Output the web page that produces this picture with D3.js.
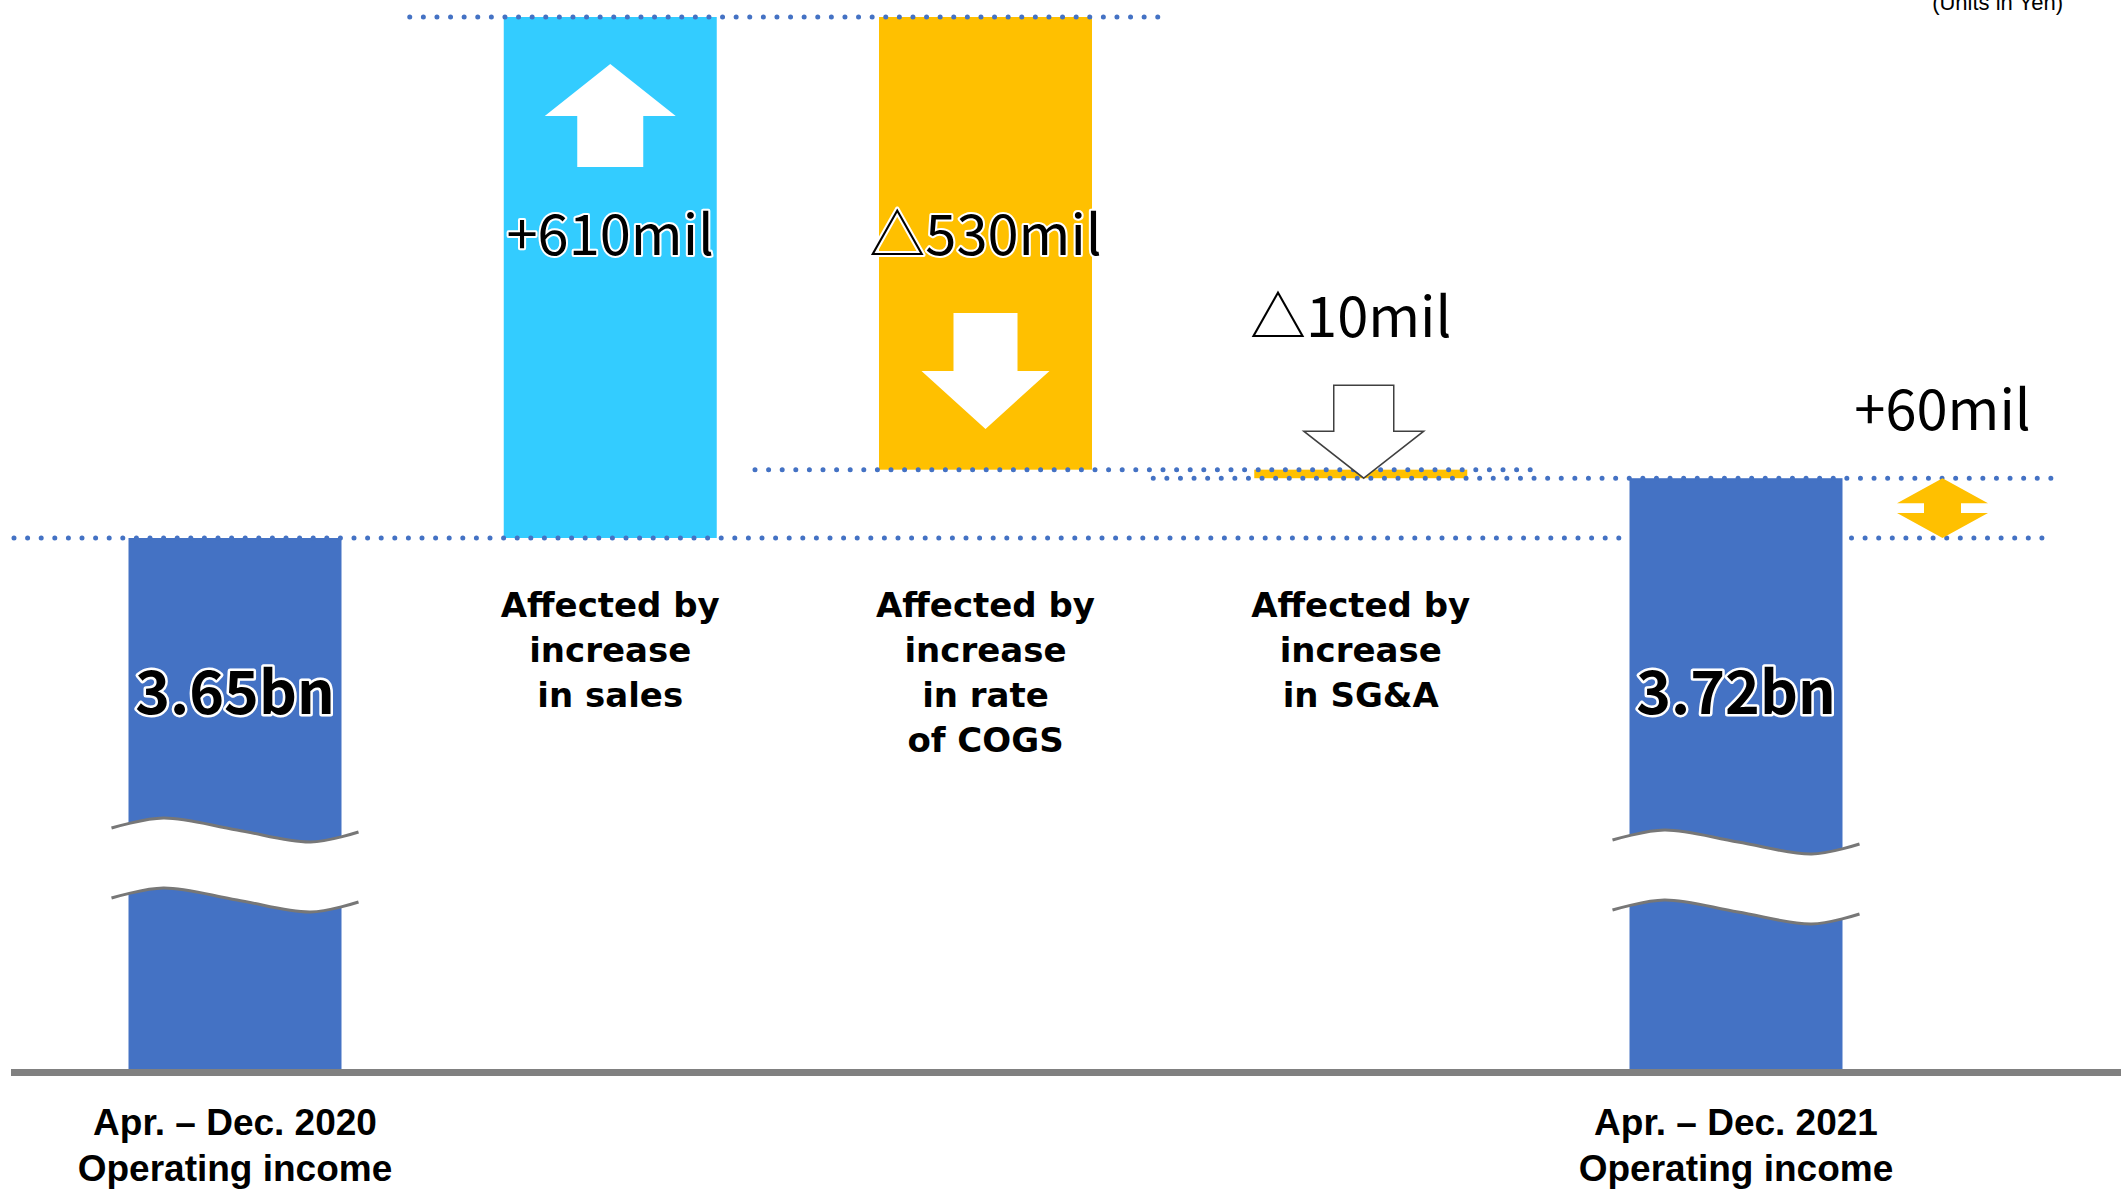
<!DOCTYPE html>
<html>
<head>
<meta charset="utf-8">
<script src="https://cdn.jsdelivr.net/npm/d3@7"></script>
<style>
  html, body { margin: 0; padding: 0; background: #ffffff; }
  svg { display: block; }
</style>
</head>
<body>
<svg id="chart" width="2121" height="1189"></svg>
<script>
// Operating income bridge: Apr.–Dec. 2020 to Apr.–Dec. 2021 (billions of yen)
const categoryLines = [
  ["Apr. – Dec. 2020", "Operating income"],
  ["Affected by", "increase", "in sales"],
  ["Affected by", "increase", "in rate", "of COGS"],
  ["Affected by", "increase", "in SG&A"],
  ["Apr. – Dec. 2021", "Operating income"]
];
const stepKinds = ["total", "delta", "delta", "delta", "total"];
const stepValues = [3.65, 0.61, -0.53, -0.01, 3.72];
const valueLabels = ["3.65bn", "+610mil", "△530mil", "△10mil", "3.72bn"];
const netChangeLabel = "+60mil";
const unitsLabel = "(Units in Yen)";

const W = 2121, H = 1189;
const svg = d3.select("#chart");

const COLORS = { total: "#4472C4", up: "#33CCFF", down: "#FFC000", dots: "#4472C4", axis: "#808080", brk: "#777777" };

// ---- running totals for the waterfall ----
let running = 0;
const bars = stepValues.map((v, i) => {
  let lo, hi, color;
  if (stepKinds[i] === "total") {
    lo = 0; hi = v; running = v; color = COLORS.total;
  } else {
    const start = running, end = running + v;
    lo = Math.min(start, end); hi = Math.max(start, end);
    running = end;
    color = v >= 0 ? COLORS.up : COLORS.down;
  }
  return { i, kind: stepKinds[i], value: v, lo, hi, color, label: valueLabels[i], lines: categoryLines[i] };
});

// ---- scales ----
const x = d3.scalePoint().domain(d3.range(bars.length)).range([235, 1736]);
const barW = 213;
const baseY = 1069;          // y of the zero line
const breakValue = 3.3;      // axis is broken below this value
const topValue = d3.max(bars, d => d.hi);
const yUpper = d3.scaleLinear().domain([3.65, topValue]).range([538, 17]);
const y = d3.scaleLinear()
  .domain([0, breakValue, topValue])
  .range([baseY, yUpper(breakValue), yUpper(topValue)]);

bars.forEach(b => {
  b.cx = x(b.i);
  b.x0 = b.cx - barW / 2;
  b.x1 = b.cx + barW / 2;
  b.yTop = y(b.hi);
  b.yBot = y(b.lo);
});

// ---- bars ----
svg.append("g").selectAll("rect").data(bars).join("rect")
  .attr("x", d => d.x0)
  .attr("y", d => d.yTop)
  .attr("width", barW)
  .attr("height", d => Math.max(0, d.yBot - d.yTop))
  .attr("fill", d => d.color);

// ---- axis-break bands across the total bars ----
const breakTop = 826, breakGap = 70, overhang = 17;
const wave = [[0, 10], [52, 0], [126, 12], [200, 24], [248, 14]];
const waveLine = d3.line().curve(d3.curveCatmullRom);
const waveArea = d3.area().curve(d3.curveCatmullRom);
const brk = svg.append("g");
bars.filter(b => b.kind === "total").forEach((b, k) => {
  const sx = (b.x1 - b.x0 + 2 * overhang) / 248;
  const top = breakTop - 8 + k * 12;
  const pts = wave.map(([px, py]) => [b.x0 - overhang + px * sx, top + py]);
  brk.append("path")
    .attr("d", waveArea.x(p => p[0]).y0(p => p[1]).y1(p => p[1] + breakGap)(pts))
    .attr("fill", "#ffffff");
  [0, breakGap].forEach(off => {
    brk.append("path")
      .attr("d", waveLine(pts.map(p => [p[0], p[1] + off])))
      .attr("fill", "none")
      .attr("stroke", COLORS.brk)
      .attr("stroke-width", 3);
  });
});

// ---- zero line ----
svg.append("line")
  .attr("x1", 11).attr("x2", W)
  .attr("y1", y(0) + 3.5).attr("y2", y(0) + 3.5)
  .attr("stroke", COLORS.axis)
  .attr("stroke-width", 7);

// ---- dotted level guides ----
const [b0, b1, b2, b3, b4] = bars;
const guides = [
  { v: b1.hi, xa: b1.x0 - 94, xb: b2.x1 + 69 },
  { v: b2.lo, xa: b2.x0 - 124, xb: b3.x1 + 69 },
  { v: b3.lo, xa: b3.x0 - 101, xb: 2051 },
  { v: b0.hi, xa: 14, xb: b4.x0 - 7 },
  { v: b0.hi, xa: b4.x1 + 9, xb: 2051 }
];
svg.append("g").selectAll("path").data(guides).join("path")
  .attr("d", g => d3.line()([[g.xa, y(g.v)], [g.xb, y(g.v)]]))
  .attr("fill", "none")
  .attr("stroke", COLORS.dots)
  .attr("stroke-width", 5)
  .attr("stroke-linecap", "round")
  .attr("stroke-dasharray", "0 13.6");

// ---- block arrows ----
function blockArrow(cx, tipY, dir, len, headLen, headW, shaftW) {
  // dir = 1 points down, -1 points up
  const hb = tipY - dir * headLen, tb = tipY - dir * len;
  const pts = [
    [cx, tipY], [cx + headW / 2, hb], [cx + shaftW / 2, hb], [cx + shaftW / 2, tb],
    [cx - shaftW / 2, tb], [cx - shaftW / 2, hb], [cx - headW / 2, hb]
  ];
  return d3.line()(pts) + "Z";
}
const arrows = svg.append("g");
// increase in sales: white arrow up inside the bar
arrows.append("path")
  .attr("d", blockArrow(b1.cx, b1.yTop + 47, -1, 103, 52, 131, 66))
  .attr("fill", "#ffffff");
// COGS: white arrow down inside the bar
arrows.append("path")
  .attr("d", blockArrow(b2.cx, b2.yTop + 412, 1, 116, 58, 128, 64))
  .attr("fill", "#ffffff");
// SG&A: outlined arrow pointing at the thin bar
const sgaTip = b3.yBot;
arrows.append("path")
  .attr("d", blockArrow(b3.cx + 3, sgaTip, 1, 93, 47, 120, 60))
  .attr("fill", "#ffffff")
  .attr("stroke", "#404040")
  .attr("stroke-width", 1.5);
// net change: double-headed arrow between the two period levels
const netX = b4.x1 + 100;
const yA = y(b4.hi), yB = y(b0.hi);
const gap = yB - yA;
const hl = Math.min(32, gap * 0.42), hw = 91, sw = 37;
arrows.append("path")
  .attr("d", d3.line()([
    [netX, yA], [netX + hw / 2, yA + hl], [netX + sw / 2, yA + hl], [netX + sw / 2, yB - hl],
    [netX + hw / 2, yB - hl], [netX, yB], [netX - hw / 2, yB - hl], [netX - sw / 2, yB - hl],
    [netX - sw / 2, yA + hl], [netX - hw / 2, yA + hl]
  ]) + "Z")
  .attr("fill", COLORS.down);

// ---- value labels ----
const valueFont = "'Noto Sans CJK JP', 'Noto Sans', sans-serif";
const vals = svg.append("g")
  .attr("font-family", valueFont)
  .attr("text-anchor", "middle")
  .attr("fill", "#000000")
  .attr("stroke", "#ffffff")
  .attr("stroke-linejoin", "round")
  .attr("paint-order", "stroke");

bars.forEach(b => {
  if (b.kind === "total") {
    vals.append("text")
      .attr("x", b.cx).attr("y", 714)
      .attr("font-size", 59).attr("font-weight", 700)
      .attr("stroke-width", 5)
      .text(b.label);
  } else if (b.yBot - b.yTop > 100) {
    vals.append("text")
      .attr("x", b.cx).attr("y", b.yTop + 238)
      .attr("font-size", 56).attr("font-weight", 400)
      .attr("stroke-width", 4)
      .text(b.label);
  } else {
    vals.append("text")
      .attr("x", b.cx - 10).attr("y", sgaTip - 93 - 48)
      .attr("font-size", 56).attr("font-weight", 400)
      .attr("stroke-width", 0)
      .text(b.label);
  }
});
vals.append("text")
  .attr("x", netX).attr("y", yA - 48)
  .attr("font-size", 56).attr("font-weight", 400)
  .attr("stroke-width", 0)
  .text(netChangeLabel);

// ---- category labels ----
const cats = svg.append("g").attr("text-anchor", "middle").attr("fill", "#000000");
bars.forEach(b => {
  const t = cats.append("text");
  if (b.kind === "total") {
    t.attr("font-family", "'Liberation Sans', Arial, sans-serif")
      .attr("font-weight", 700).attr("font-size", 37);
    b.lines.forEach((ln, k) => {
      t.append("tspan").attr("x", b.cx).attr("y", 1135 + k * 46).text(ln);
    });
  } else {
    t.attr("font-family", "'DejaVu Sans', Verdana, sans-serif")
      .attr("font-weight", 700).attr("font-size", 34);
    b.lines.forEach((ln, k) => {
      t.append("tspan").attr("x", b.cx).attr("y", 617 + k * 45).text(ln);
    });
  }
});

// ---- units note ----
svg.append("text")
  .attr("x", 2063).attr("y", 10)
  .attr("text-anchor", "end")
  .attr("font-family", "'Liberation Sans', Arial, sans-serif")
  .attr("font-size", 22)
  .attr("fill", "#000000")
  .text(unitsLabel);
</script>
</body>
</html>
